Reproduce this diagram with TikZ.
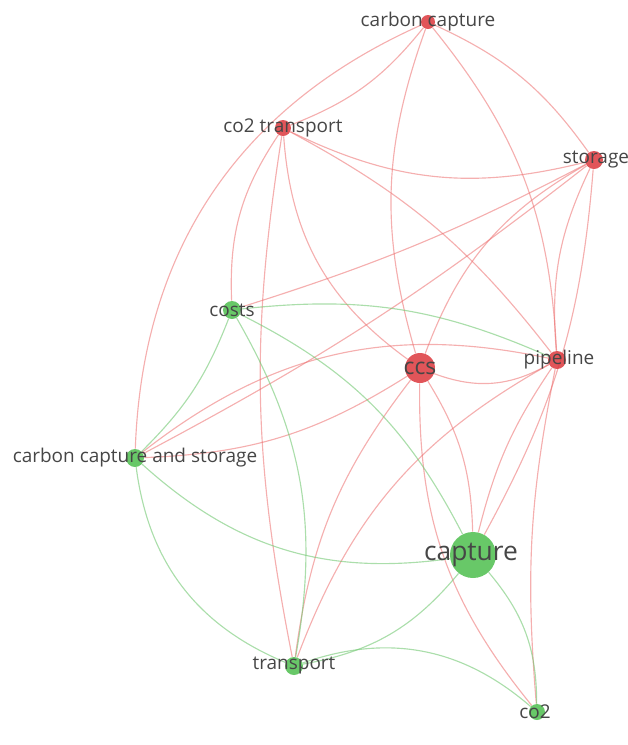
\documentclass[tikz,border=0pt]{standalone}
\usepackage{fontspec}
\setmainfont{Open Sans}
\usepackage{tikz}
\usetikzlibrary{backgrounds}
\definecolor{vosred}{RGB}{220,55,60}
\definecolor{vosgreen}{RGB}{78,190,78}
\definecolor{edgered}{RGB}{236,110,110}
\definecolor{edgegreen}{RGB}{115,200,115}
\definecolor{lblgray}{RGB}{70,70,70}

\begin{document}
\begin{tikzpicture}[x=0.02cm, y=-0.02cm,
  kw/.style={circle, inner sep=0pt, fill opacity=0.85},
  rkw/.style={kw, fill=vosred},
  gkw/.style={kw, fill=vosgreen},
  lbl/.style={text=lblgray, font=\fontsize{10.8}{12}\selectfont, inner sep=0pt},
  redge/.style={draw=edgered, opacity=0.55, line width=0.65pt},
  gedge/.style={draw=edgegreen, opacity=0.6, line width=0.65pt}]

\useasboundingbox (0,0) rectangle (628,745);

% keywords
\node[rkw, minimum size=0.28cm] (ccap) at (428,22) {};
\node[rkw, minimum size=0.32cm] (co2t) at (283,128) {};
\node[rkw, minimum size=0.36cm] (stor) at (594,160) {};
\node[gkw, minimum size=0.36cm] (costs) at (232,310) {};
\node[rkw, minimum size=0.60cm] (ccs) at (420,368) {};
\node[rkw, minimum size=0.36cm] (pipe) at (557,360) {};
\node[gkw, minimum size=0.36cm] (ccas) at (135,458) {};
\node[gkw, minimum size=0.92cm] (capt) at (473,555) {};
\node[gkw, minimum size=0.36cm] (trans) at (294,666) {};
\node[gkw, minimum size=0.32cm] (co2) at (537,712) {};

% labels
\node[lbl] (ccap-l) at (ccap) {carbon capture};
\node[lbl] (co2t-l) at (co2t) {co2 transport};
\node[lbl] (stor-l) at (596,160) {storage};
\node[lbl] (costs-l) at (costs) {costs};
\node[lbl, font=\fontsize{13}{15}\selectfont] (ccs-l) at (ccs) {ccs};
\node[lbl] (pipe-l) at (559,360) {pipeline};
\node[lbl] (ccas-l) at (ccas) {carbon capture and storage};
\node[lbl, font=\fontsize{15}{18}\selectfont] (capt-l) at (471,555) {capture};
\node[lbl] (trans-l) at (trans) {transport};
\node[lbl] (co2-l) at (535,712) {co2};

% links
\begin{pgfonlayer}{background}
\draw[redge] (ccap) to[bend left=15] (co2t);
\draw[redge] (ccap) to[bend right=32] (ccas);
\draw[redge] (ccap) to[bend left=15] (stor);
\draw[redge] (ccap) to[bend right=18] (ccs);
\draw[redge] (ccap) to[bend left=18] (pipe);
\draw[redge] (co2t) to[bend right=20] (stor);
\draw[redge] (co2t) to[bend left=12] (pipe);
\draw[redge] (co2t) to[bend right=25] (ccs);
\draw[redge] (co2t) to[bend right=18] (costs);
\draw[redge] (co2t) to[bend right=10] (trans);
\draw[redge] (stor) to[bend right=20] (ccs);
\draw[redge] (stor) to[bend left=5] (costs);
\draw[redge] (stor) to[bend left=5] (ccas);
\draw[redge] (stor) to[bend right=15] (pipe);
\draw[redge] (stor) to[bend left=12] (capt);
\draw[redge] (ccs) to[bend right=25] (pipe);
\draw[redge] (ccs) to[bend left=15] (capt);
\draw[redge] (ccs) to[bend right=15] (trans);
\draw[redge] (ccs) to[bend right=20] (co2);
\draw[redge] (ccs) to[bend left=15] (ccas);
\draw[redge] (pipe) to[bend right=25] (ccas);
\draw[redge] (pipe) to[bend right=10] (capt);
\draw[redge] (pipe) to[bend right=20] (trans);
\draw[redge] (pipe) to[bend right=8] (co2);
\draw[gedge] (costs) to[bend left=15] (pipe);
\draw[gedge] (costs) to[bend left=18] (capt);
\draw[gedge] (costs) to[bend left=20] (trans);
\draw[gedge] (costs) to[bend left=12] (ccas);
\draw[gedge] (ccas) to[bend right=25] (capt);
\draw[gedge] (ccas) to[bend right=30] (trans);
\draw[gedge] (capt) to[bend left=20] (trans);
\draw[gedge] (capt) to[bend left=20] (co2);
\draw[gedge] (trans) to[bend left=30] (co2);
\end{pgfonlayer}

\end{tikzpicture}
\end{document}
